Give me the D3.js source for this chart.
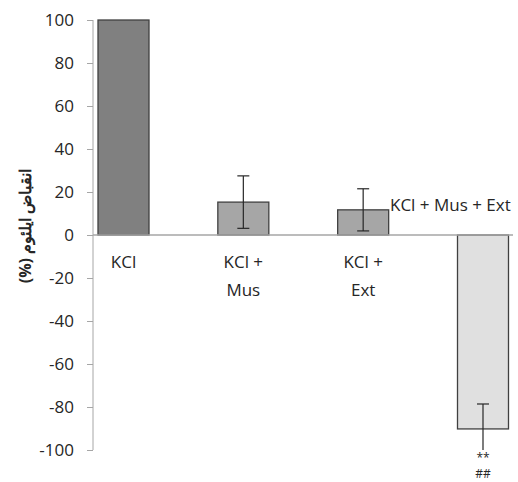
<!DOCTYPE html>
<html>
<head>
<meta charset="utf-8">
<script src="https://cdn.jsdelivr.net/npm/d3@7"></script>
<style>
  body { margin: 0; background: #fff; }
  text { font-family: "Open Sans", "Noto Sans", sans-serif; fill: #262626; }
</style>
</head>
<body>
<svg id="chart" width="518" height="482"></svg>
<script>
  // data
  var groups = ["KCl", "KCl + Mus", "KCl + Ext", "KCl + Mus + Ext"];
  var labelLines = [["KCl"], ["KCl +", "Mus"], ["KCl +", "Ext"], ["KCl + Mus + Ext"]];
  var means = [100, 15.3, 11.7, -90.2];
  var errors = [0, 12.2, 9.8, 11.6];
  var fills = ["#808080", "#a6a6a6", "#a6a6a6", "#e0e0e0"];
  var yTicks = [100, 80, 60, 40, 20, 0, -20, -40, -60, -80, -100];
  var marks = ["", "", "", "**|##"];

  var svg = d3.select("#chart");

  var y = d3.scaleLinear().domain([-100, 100]).range([450, 20]);
  var x = d3.scalePoint().domain(groups).range([123.5, 483]);
  var barW = 51;
  var axisX = 93;

  // y axis
  var yAxis = svg.append("g")
    .attr("transform", "translate(" + axisX + ",0)")
    .call(d3.axisLeft(y).tickValues(yTicks).tickSize(6).tickPadding(13)
      .tickFormat(function(d) { return String(d); }));
  yAxis.select(".domain").attr("stroke", "#a6a6a6").attr("d", "M0," + y(100) + "V" + y(-100));
  yAxis.selectAll(".tick line").attr("stroke", "#a6a6a6");
  yAxis.selectAll(".tick text")
    .style("font-size", "17px")
    .style("font-family", "'Open Sans', sans-serif")
    .attr("fill", "#262626");

  svg.append("text")
    .attr("transform", "translate(31,226) rotate(-90)")
    .attr("text-anchor", "middle")
    .style("font-size", "16px")
    .style("font-weight", "bold")
    .attr("direction", "rtl")
    .text("انقباض ایلئوم (%)");

  // bars
  svg.selectAll("rect.bar")
    .data(groups)
    .enter()
    .append("rect")
    .attr("class", "bar")
    .attr("x", function(d) { return x(d) - barW / 2; })
    .attr("width", barW)
    .attr("y", function(d, i) { return y(Math.max(0, means[i])); })
    .attr("height", function(d, i) { return Math.abs(y(means[i]) - y(0)); })
    .attr("fill", function(d, i) { return fills[i]; })
    .attr("stroke", "#404040")
    .attr("stroke-width", 1.3);

  // zero line
  svg.append("line")
    .attr("x1", axisX).attr("x2", 513)
    .attr("y1", y(0)).attr("y2", y(0))
    .attr("stroke", "#a6a6a6")
    .attr("stroke-width", 1.3);

  // error bars (clipped at axis minimum, as the original)
  groups.forEach(function(g, i) {
    if (!errors[i]) return;
    var hi = means[i] + errors[i], lo = means[i] - errors[i];
    var cx = x(g);
    var lowClipped = lo < -100;
    svg.append("line")
      .attr("x1", cx).attr("x2", cx)
      .attr("y1", y(hi)).attr("y2", y(Math.max(lo, -100)))
      .attr("stroke", "#262626").attr("stroke-width", 1.2);
    svg.append("line")
      .attr("x1", cx - 6).attr("x2", cx + 6)
      .attr("y1", y(hi)).attr("y2", y(hi))
      .attr("stroke", "#262626").attr("stroke-width", 1.2);
    if (!lowClipped) {
      svg.append("line")
        .attr("x1", cx - 6).attr("x2", cx + 6)
        .attr("y1", y(lo)).attr("y2", y(lo))
        .attr("stroke", "#262626").attr("stroke-width", 1.2);
    }
  });

  // category labels
  labelLines.forEach(function(lines, i) {
    var t = svg.append("text")
      .attr("text-anchor", i === 3 ? "start" : "middle")
      .style("font-size", "17px");
    lines.forEach(function(s, k) {
      t.append("tspan")
        .attr("x", i === 3 ? 390 : x(groups[i]))
        .attr("y", i === 3 ? 211 : 268 + k * 28)
        .text(s);
    });
  });

  // significance marks
  marks.forEach(function(m, i) {
    if (!m) return;
    m.split("|").forEach(function(s, k) {
      svg.append("text")
        .attr("x", x(groups[i]))
        .attr("y", k === 0 ? 462 : 478)
        .attr("text-anchor", "middle")
        .style("font-size", "12px")
        .text(s);
    });
  });
</script>
</body>
</html>
